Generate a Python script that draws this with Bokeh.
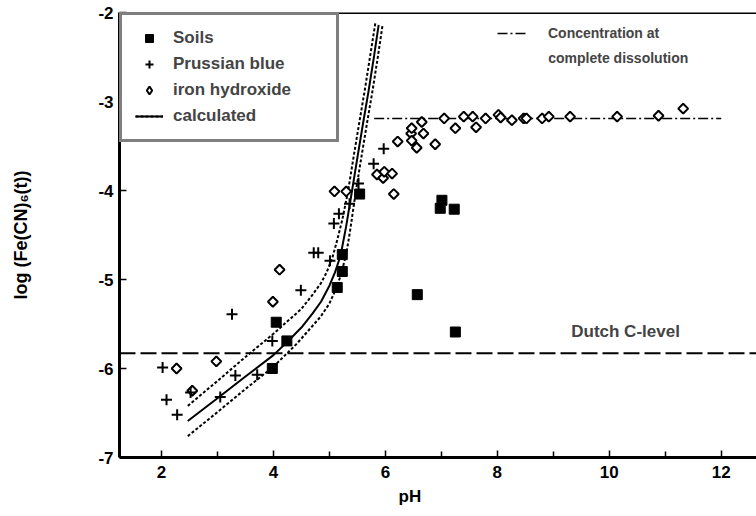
import numpy as np
from bokeh.plotting import figure
from bokeh.models import (Legend, LegendItem, Label, Span, FixedTicker, Range1d, Title)
from bokeh.embed import file_html
from bokeh.resources import INLINE

# ---------------- data ----------------
soil_ph = [3.98, 4.05, 4.24, 5.14, 5.23, 5.23, 5.54, 6.57, 6.98, 7.01, 7.23, 7.25]
soil_log = [-6.00, -5.48, -5.69, -5.09, -4.91, -4.72, -4.04, -5.17, -4.20, -4.11, -4.21, -5.59]

pb_ph = [2.02, 2.09, 2.28, 2.52, 3.05, 3.26, 3.32, 3.71, 3.98, 4.49, 4.72, 4.80,
         5.01, 5.08, 5.17, 5.36, 5.52, 5.79, 5.97]
pb_log = [-5.99, -6.35, -6.52, -6.27, -6.32, -5.39, -6.08, -6.07, -5.69, -5.12, -4.70, -4.70,
          -4.79, -4.37, -4.26, -4.15, -3.92, -3.70, -3.53]

fe_ph = [2.27, 2.55, 2.98, 3.99, 4.11, 5.09, 5.30, 5.85, 5.96, 5.98, 6.12, 6.15,
         6.22, 6.46, 6.47, 6.47, 6.56, 6.65, 6.68, 6.89, 7.05, 7.25, 7.40, 7.56,
         7.62, 7.79, 8.02, 8.06, 8.26, 8.47, 8.52, 8.80, 8.92, 9.30, 10.14, 10.88, 11.32]
fe_log = [-6.00, -6.25, -5.92, -5.25, -4.89, -4.01, -4.01, -3.82, -3.86, -3.79, -3.81, -4.04,
          -3.45, -3.36, -3.30, -3.44, -3.52, -3.23, -3.36, -3.48, -3.19, -3.30, -3.17, -3.17,
          -3.29, -3.19, -3.15, -3.18, -3.21, -3.19, -3.19, -3.19, -3.17, -3.17, -3.17, -3.16, -3.08]

calc_ph = [2.47, 3.00, 3.50, 4.00, 4.25, 4.50, 4.70, 4.85, 5.00, 5.10, 5.20, 5.30,
           5.40, 5.50, 5.60, 5.70, 5.80, 5.88]
calc_log = [-6.59, -6.335, -6.09, -5.85, -5.70, -5.54, -5.38, -5.25, -5.07, -4.92, -4.73, -4.40,
            -4.02, -3.63, -3.25, -2.88, -2.48, -2.14]

upper_ph = [2.47, 3.00, 3.50, 4.00, 4.25, 4.50, 4.70, 4.85, 4.95, 5.05, 5.13, 5.23,
            5.33, 5.43, 5.53, 5.63, 5.73, 5.82]
upper_log = [-6.42, -6.14, -5.87, -5.61, -5.47, -5.33, -5.17, -5.04, -4.92, -4.76, -4.58, -4.33,
             -4.02, -3.63, -3.25, -2.88, -2.48, -2.12]

lower_ph = [2.47, 3.00, 3.50, 4.00, 4.42, 4.84, 5.00, 5.10, 5.20, 5.30, 5.37, 5.47,
            5.57, 5.67, 5.77, 5.87, 5.95]
lower_log = [-6.76, -6.49, -6.23, -5.98, -5.72, -5.42, -5.27, -5.13, -4.96, -4.72, -4.45, -4.02,
             -3.63, -3.25, -2.88, -2.48, -2.14]

diss_ph = [5.80, 12.00]
diss_level = -3.19
dutch_c_level = -5.83

x_ticks = [2, 4, 6, 8, 10, 12]
x_minor = [3, 5, 7, 9, 11]
y_ticks = [-7, -6, -5, -4, -3, -2]
y_tick_labels = ["-7", "-6", "-5", "-4", "-3", "-2"]

FONT = "Liberation Sans"

p = figure(width=756, height=516, x_range=Range1d(1.25, 12.63), y_range=Range1d(-7, -2),
           output_backend="svg", toolbar_location=None,
           min_border_left=119, min_border_right=0, min_border_top=12, min_border_bottom=59)
p.grid.visible = False
p.outline_line_color = None
p.background_fill_color = "white"
p.border_fill_color = "white"

# axes
p.xaxis.ticker = FixedTicker(ticks=x_ticks, minor_ticks=x_minor)
p.yaxis.ticker = FixedTicker(ticks=y_ticks, minor_ticks=[])
p.yaxis.major_label_overrides = {t: l for t, l in zip(y_ticks, y_tick_labels)}
for ax in (p.xaxis[0], p.yaxis[0]):
    ax.axis_line_width = 3
    ax.axis_line_color = "black"
    ax.major_tick_in = 7
    ax.major_tick_out = 0
    ax.minor_tick_in = 6
    ax.minor_tick_out = 0
    ax.major_tick_line_width = 1.5
    ax.minor_tick_line_width = 1.5
    ax.major_label_text_font = FONT
    ax.major_label_text_font_style = "bold"
    ax.major_label_text_font_size = "17px"
    ax.major_label_text_color = "black"
    ax.axis_label_text_font = FONT
    ax.axis_label_text_font_style = "bold"
    ax.axis_label_text_color = "black"
p.xaxis.major_label_standoff = 8
p.yaxis.major_label_standoff = 6
p.yaxis.axis_label = "log (Fe(CN)\u2086(t))"
p.yaxis.axis_label_text_font_size = "18px"
p.yaxis.axis_label_standoff = 64

# x-axis title, placed left of the frame centre as in the reference
p.add_layout(Title(text="pH", align="left", offset=279, standoff=8,
                   text_font=FONT, text_font_style="bold", text_font_size="17px",
                   text_color="black"), "below")

# top frame line
p.add_layout(Span(location=-2, dimension="width", line_color="black", line_width=3))

# reference levels
p.add_layout(Span(location=dutch_c_level, dimension="width", line_color="black",
                  line_width=2, line_dash="16 5"))
r_diss = p.line(diss_ph, [diss_level] * len(diss_ph), line_color="black",
                line_width=1.5, line_dash="10 3 2 3")

# calculated curves
r_calc = p.line(calc_ph, calc_log, line_color="black", line_width=2)
r_up = p.line(upper_ph, upper_log, line_color="black", line_width=2, line_dash="3 2")
r_lo = p.line(lower_ph, lower_log, line_color="black", line_width=2, line_dash="3 2")

# data points
# diamond glyph used for the legend key; drawn underneath and hidden by the rotated squares
r_fe_key = p.scatter(fe_ph, fe_log, marker="diamond", size=9,
                     fill_color="white", line_color="black", line_width=2)
r_fe = p.scatter(fe_ph, fe_log, marker="square", angle=np.pi / 4, size=7,
                 fill_color="white", line_color="black", line_width=2)
r_pb = p.scatter(pb_ph, pb_log, marker="cross", size=11, line_color="black", line_width=2)
r_soil = p.scatter(soil_ph, soil_log, marker="square", size=10,
                   fill_color="black", line_color="black")

legend = Legend(items=[LegendItem(label="Soils", renderers=[r_soil]),
                       LegendItem(label="Prussian blue", renderers=[r_pb]),
                       LegendItem(label="iron hydroxide", renderers=[r_fe_key]),
                       LegendItem(label="calculated", renderers=[r_calc, r_lo])],
                location="top_left", margin=0, padding=13, spacing=6,
                glyph_width=28, glyph_height=20, label_standoff=10, label_width=150,
                label_text_font=FONT, label_text_font_style="bold",
                label_text_font_size="17px",
                border_line_color="black", border_line_width=3,
                background_fill_color="white", background_fill_alpha=1)
p.add_layout(legend)

legend2 = Legend(items=[LegendItem(label="Concentration at", renderers=[r_diss])],
                 location=(378, 414), margin=0, padding=0,
                 glyph_width=31, glyph_height=20, label_standoff=20,
                 label_text_font=FONT, label_text_font_style="bold",
                 label_text_font_size="14px",
                 border_line_color=None, background_fill_alpha=0)
p.add_layout(legend2)

p.add_layout(Label(x=8.91, y=-2.506, text="complete dissolution", text_font=FONT,
                   text_font_style="bold", text_font_size="14px", text_baseline="middle"))
p.add_layout(Label(x=9.32, y=-5.58, text="Dutch C-level", text_font=FONT,
                   text_font_style="bold", text_font_size="17px", text_baseline="middle"))

open("out.html", "w").write(file_html(p, INLINE))
